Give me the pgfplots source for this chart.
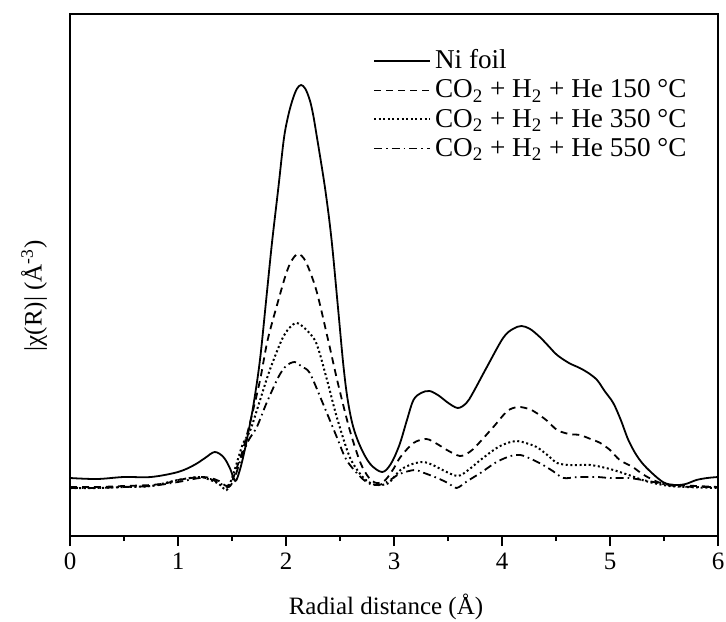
\documentclass[border=0pt]{standalone}
\usepackage{fontspec}
\setmainfont{Liberation Serif}
\usepackage{pgfplots}
\pgfplotsset{compat=1.18}
\begin{document}
\begin{tikzpicture}
\begin{axis}[
  name=ax,
  scale only axis,
  width=324pt, height=261pt,
  xmin=0, xmax=6, ymin=0, ymax=522,
  xtick={0,1,2,3,4,5,6},
  minor xtick={0.5,1.5,2.5,3.5,4.5,5.5},
  ytick=\empty,
  xtick pos=bottom,
  tick align=outside,
  major tick length=5pt,
  minor tick length=2.5pt,
  every tick/.style={black, line width=0.8pt},
  axis line style={line width=0.9pt},
  /pgf/number format/assume math mode=true,
  tick label style={font=\fontsize{12.5}{14}\selectfont},
  label style={font=\fontsize{12.5}{14}\selectfont},
  xlabel={Radial distance (Å)},
  ylabel={|χ(R)| (Å\textsuperscript{-3})},
  xlabel style={yshift=-5pt, xshift=-4pt},
  ylabel style={at={(rel axis cs:0,0.46)}, anchor=south, yshift=8pt},
  legend style={draw=none, fill=none, at={(0.467,0.94)}, anchor=north west,
    font=\fontsize{13.6}{15}\selectfont, row sep=0pt, inner sep=0pt},
  legend cell align=left,
  legend image code/.code={\draw[#1] (0pt,0pt) -- (28pt,0pt);},
  every axis plot/.append style={black, line width=0.9pt},
]
\addplot[smooth, tension=0.55] coordinates {
(0.00,58)(0.25,57)(0.50,59)(0.75,59)(1.00,64)(1.15,71)(1.25,78)(1.34,84)(1.42,79)(1.48,68)(1.53,55)
(1.57,65)(1.61,82)(1.65,103)(1.70,132)(1.76,177)(1.82,240)(1.87,293)(1.93,349)(1.98,397)(2.02,420)
(2.06,436)(2.10,447)(2.14,451)(2.18,447)(2.22,436)(2.25,422)(2.28,403)(2.36,349)(2.42,298)(2.48,230)
(2.53,172)(2.57,137)(2.62,110)(2.69,89)
(2.78,72)(2.89,64)(2.97,72)(3.05,91)(3.12,116)(3.18,136)(3.25,143)(3.33,145)(3.42,140)(3.49,134)
(3.59,128)(3.67,133)(3.73,143)(3.86,169)(4.01,198)(4.10,207)(4.18,210)(4.26,207)(4.35,199)(4.43,190)
(4.51,181)(4.62,173)(4.72,168)(4.80,163)(4.88,156)(4.95,145)(5.03,133)(5.10,116)(5.17,96)(5.25,80)
(5.34,68)(5.49,54)(5.60,51)(5.70,52)(5.80,56)(5.90,58)(6.00,59)};
\addlegendentry{Ni foil}
\addplot[smooth, tension=0.5, dash pattern=on 3.5pt off 2.5pt] coordinates {
(0.00,49)(0.25,49)(0.50,50)(0.75,51)(0.90,53)(1.00,56)(1.20,59)(1.30,58)(1.38,55)(1.45,50)(1.50,55)
(1.55,70)(1.60,86)(1.68,119)(1.76,156)(1.83,196)(1.93,236)(2.00,262)(2.05,275)(2.11,282)(2.18,275)
(2.28,246)(2.39,196)(2.48,153)(2.59,106)(2.69,73)(2.77,58)(2.84,53)(2.92,56)(3.00,68)(3.06,79)
(3.18,93)(3.30,97)(3.40,92)(3.49,86)(3.61,80)(3.70,84)(3.77,91)(3.92,109)(4.05,125)(4.15,129)
(4.25,127)(4.32,123)(4.42,115)(4.51,106)(4.62,102)(4.72,101)(4.82,97)(4.91,93)(5.00,86)(5.09,76)
(5.21,69)(5.30,62)(5.40,56)(5.50,52)(5.60,51)(5.80,50)(6.00,49)};
\addlegendentry{CO\textsubscript{2} + H\textsubscript{2} + He 150 °C}
\addplot[smooth, tension=0.5, line width=1pt, dash pattern=on 1pt off 1.3pt] coordinates {
(0.00,48)(0.25,48)(0.50,49)(0.75,50)(1.00,56)(1.20,59)(1.30,56)(1.38,52)(1.45,46)(1.50,58)(1.55,75)
(1.60,92)(1.67,106)(1.76,136)(1.85,166)(1.96,196)(2.03,208)(2.10,213)(2.18,207)(2.28,193)(2.38,156)
(2.47,119)(2.59,79)(2.71,59)(2.80,52)(2.86,51)(2.95,53)(3.06,66)(3.17,72)(3.27,74)(3.36,71)(3.45,66)
(3.59,60)(3.70,67)(3.80,76)(3.95,88)(4.05,93)(4.14,95)(4.22,93)(4.32,89)(4.42,81)(4.51,73)(4.62,71)
(4.72,71)(4.82,71)(4.88,70)(5.00,67)(5.09,64)(5.20,60)(5.30,56)(5.40,53)(5.55,50)(5.70,49)(6.00,48)};
\addlegendentry{CO\textsubscript{2} + H\textsubscript{2} + He 350 °C}
\addplot[smooth, tension=0.5, dash pattern=on 4pt off 2pt on 0.8pt off 2pt] coordinates {
(0.00,48)(0.25,48)(0.50,49)(0.75,50)(1.00,54)(1.20,58)(1.30,57)(1.40,52)(1.47,49)(1.52,57)(1.58,76)
(1.65,95)(1.73,109)(1.82,133)(1.93,159)(2.00,170)(2.08,174)(2.15,169)(2.22,163)(2.34,133)(2.47,99)
(2.56,76)(2.69,59)(2.78,52)(2.86,51)(2.95,55)(3.05,62)(3.19,66)(3.28,63)(3.40,58)(3.50,53)(3.58,48)
(3.68,55)(3.80,63)(3.95,74)(4.08,80)(4.17,81)(4.27,77)(4.38,71)(4.47,65)(4.57,58)(4.70,59)(4.88,59)
(5.00,58)(5.17,58)(5.30,56)(5.45,53)(5.60,50)(5.80,49)(6.00,49)};
\addlegendentry{CO\textsubscript{2} + H\textsubscript{2} + He 550 °C}
\end{axis}
\pgfresetboundingbox
\path (ax.south west) ++(-35pt,-42.5pt) coordinate (bl);
\path (ax.north east) ++(4pt,7pt) coordinate (tr);
\path[use as bounding box] (bl) rectangle (tr);
\end{tikzpicture}
\end{document}
